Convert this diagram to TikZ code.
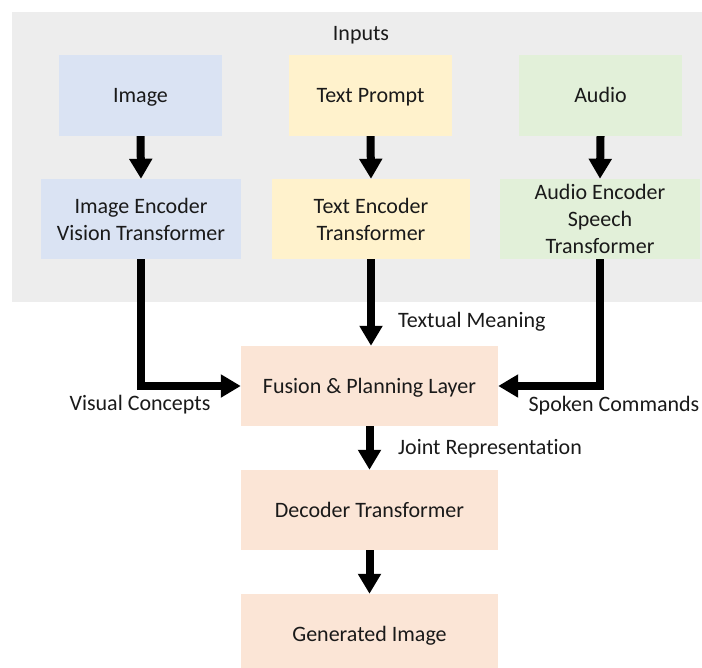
\documentclass[tikz,border=0pt]{standalone}
\usepackage{fontspec}
\setmainfont[Ligatures=NoCommon]{Carlito}
\usetikzlibrary{arrows.meta}
\definecolor{inbg}{HTML}{EDEDED}
\definecolor{bluebox}{HTML}{DAE3F3}
\definecolor{yellowbox}{HTML}{FFF2CC}
\definecolor{greenbox}{HTML}{E2F0D9}
\definecolor{peachbox}{HTML}{FBE5D6}
\definecolor{ink}{HTML}{1A1A1A}
\begin{document}
\begin{tikzpicture}[x=1bp,y=-1bp,
  every node/.style={font=\fontsize{22bp}{27bp}\selectfont, text=ink},
  block/.style={rectangle, inner sep=0pt, align=center, draw=none},
  oneline/.style={text height=16bp, text depth=2bp},
  flow/.style={line width=8bp, line join=miter, draw=black,
    -{Triangle[width=22bp,length=20bp]}},
  lbl/.style={inner sep=0pt}]
  \useasboundingbox (0,0) rectangle (702,668);
  \fill[white] (0,0) rectangle (702,668);

  % input panel
  \fill[inbg] (12,12) rectangle (702,302);
  \node[lbl] (inputs) at (361,35) {Inputs};

  % input blocks
  \node[block, oneline, fill=bluebox, minimum width=163bp, minimum height=81bp] (img) at (140.5,95.5) {Image};
  \node[block, oneline, fill=yellowbox, minimum width=163bp, minimum height=81bp] (txt) at (370.5,95.5) {Text Prompt};
  \node[block, oneline, fill=greenbox, minimum width=163bp, minimum height=81bp] (aud) at (600.5,95.5) {Audio};

  % encoders
  \node[block, fill=bluebox, minimum width=200bp, minimum height=80bp] (ienc) at (141,219) {Image Encoder\\Vision Transformer};
  \node[block, fill=yellowbox, minimum width=198bp, minimum height=80bp] (tenc) at (371,219) {Text Encoder\\Transformer};
  \node[block, fill=greenbox, minimum width=200bp, minimum height=80bp] (aenc) at (600,219) {Audio Encoder\\Speech\\Transformer};

  % fusion and generation
  \node[block, oneline, fill=peachbox, minimum width=257bp, minimum height=80bp] (fus) at (369.5,386) {Fusion \& Planning Layer};
  \node[block, oneline, fill=peachbox, minimum width=257bp, minimum height=80bp] (dec) at (369.5,510) {Decoder Transformer};
  \node[block, oneline, fill=peachbox, minimum width=257bp, minimum height=80bp] (gen) at (369.5,634) {Generated Image};

  % connectors
  \draw[flow] (img.south) -- (ienc.north);
  \draw[flow] (txt.south) -- (tenc.north);
  \draw[flow] (aud.south) -- (aenc.north);
  \draw[flow] (ienc.south) |- (fus.west);
  \draw[flow] (tenc.south) -- (tenc.south |- fus.north);
  \draw[flow] (aenc.south) |- (fus.east);
  \draw[flow] (fus.south) -- (dec.north);
  \draw[flow] (dec.south) -- (gen.north);

  % connector labels
  \node[lbl, anchor=west] (ltext) at (398,322) {Textual Meaning};
  \node[lbl] (lvis) at (140,405) {Visual Concepts};
  \node[lbl] (lspk) at (614,406) {Spoken Commands};
  \node[lbl, anchor=west] (ljoint) at (398,449) {Joint Representation};
\end{tikzpicture}
\end{document}
